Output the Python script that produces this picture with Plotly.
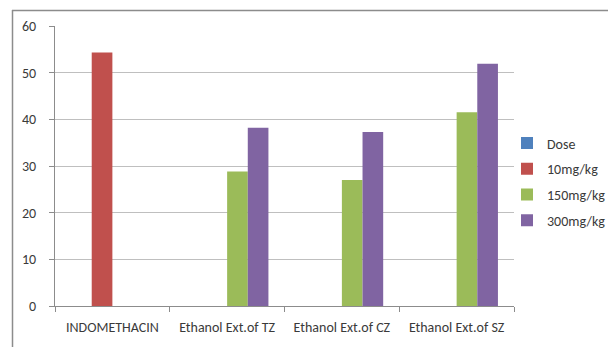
import plotly.graph_objects as go

# Anti-inflammatory activity (% inhibition) by treatment and dose
categories = ["INDOMETHACIN", "Ethanol Ext.of TZ", "Ethanol Ext.of CZ", "Ethanol Ext.of SZ"]
series_names = ["Dose", "10mg/kg", "150mg/kg", "300mg/kg"]
dose = [0, 0, 0, 0]
mg10 = [54.3, 0, 0, 0]
mg150 = [0, 28.8, 27.0, 41.5]
mg300 = [0, 38.2, 37.3, 51.9]
colors = ["#4F81BD", "#C0504D", "#9BBB59", "#8064A2"]
y_ticks = [0, 10, 20, 30, 40, 50, 60]

FONT = "Carlito, Lato, 'Liberation Sans', sans-serif"
TEXT = "#3a3a3a"

fig = go.Figure()
for i, (name, vals) in enumerate(zip(series_names, [dose, mg10, mg150, mg300])):
    fig.add_trace(go.Bar(
        x=categories, y=vals, name=name,
        marker=dict(color=colors[i], line=dict(width=0)),
        legendgroup=name,
    ))

W, H = 608, 347
L, R, T, B = 55, 94, 26, 41
pw, ph = W - L - R, H - T - B

def px_x(x):
    return (x - L) / pw

def px_y(y):
    return (H - B - y) / ph

fig.update_layout(
    width=W, height=H,
    margin=dict(l=L, r=R, t=T, b=B, pad=0, autoexpand=False),
    paper_bgcolor="white", plot_bgcolor="white",
    barmode="group", bargap=0.28, bargroupgap=0,
    font=dict(family=FONT, size=14, color=TEXT),
    showlegend=True,
    legend=dict(
        xref="container", yref="container",
        x=507 / W, y=1 - 127.5 / H, xanchor="left", yanchor="top",
        font=dict(family=FONT, size=14, color=TEXT),
        traceorder="grouped", tracegroupgap=4.5,
        itemwidth=30, bgcolor="rgba(0,0,0,0)",
    ),
    xaxis=dict(
        type="category", showgrid=False,
        showline=True, linecolor="#8c8c8c", linewidth=1,
        ticks="outside", ticklen=5, tickcolor="#8c8c8c",
        tickson="boundaries", ticklabelstandoff=8,
        tickfont=dict(family=FONT, size=14, color=TEXT),
    ),
    yaxis=dict(
        range=[0, 60], tickvals=y_ticks,
        showgrid=True, gridcolor="#bfbfbf", gridwidth=1,
        showline=True, linecolor="#8c8c8c", linewidth=1,
        ticks="outside", ticklen=5, tickcolor="#8c8c8c",
        ticklabelstandoff=10, zeroline=False,
        tickfont=dict(family=FONT, size=14, color=TEXT),
    ),
    shapes=[
        # outer chart frame (top and left edges)
        dict(type="line", xref="paper", yref="paper",
             x0=px_x(12), x1=px_x(W + 5), y0=px_y(10.5), y1=px_y(10.5),
             line=dict(color="#8c8c8c", width=1.5)),
        dict(type="line", xref="paper", yref="paper",
             x0=px_x(12.5), x1=px_x(12.5), y0=px_y(10), y1=px_y(H + 5),
             line=dict(color="#8c8c8c", width=1.5)),
    ],
)

fig.write_html("out.html")
